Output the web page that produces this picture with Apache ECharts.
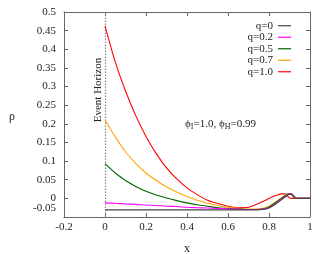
<!DOCTYPE html>
<html><head><meta charset="utf-8">
<script src="https://cdn.jsdelivr.net/npm/echarts@6/dist/echarts.min.js"></script>
<style>html,body{margin:0;padding:0;background:#fff}#c{width:330px;height:254px}</style>
</head><body><div id="c"></div>
<script>
const xs = [0, 0.05, 0.1, 0.15, 0.2, 0.25, 0.3, 0.35, 0.4, 0.45, 0.5, 0.55, 0.6, 0.65, 0.7, 0.74, 0.78, 0.8, 0.82, 0.84, 0.86, 0.87, 0.88, 0.89, 0.9, 0.91, 0.92, 0.93, 0.94, 0.96, 1.0];
const q0  = [-0.031,-0.031,-0.031,-0.031,-0.031,-0.031,-0.031,-0.031,-0.031,-0.031,-0.031,-0.031,-0.031,-0.031,-0.031,-0.031,-0.029,-0.026,-0.020,-0.012,-0.004,0.000,0.004,0.008,0.011,0.012,0.007,0.001,0,0,0];
const q02 = [-0.012,-0.013,-0.015,-0.016,-0.018,-0.019,-0.021,-0.022,-0.024,-0.025,-0.026,-0.027,-0.028,-0.029,-0.030,-0.030,-0.028,-0.025,-0.019,-0.011,-0.003,0.001,0.005,0.009,0.012,0.012,0.006,0.001,0,0,0];
const q05 = [0.093,0.068,0.048,0.032,0.019,0.009,0.001,-0.006,-0.012,-0.017,-0.021,-0.025,-0.027,-0.029,-0.030,-0.030,-0.027,-0.023,-0.016,-0.008,0.000,0.004,0.008,0.011,0.013,0.011,0.004,0.000,0,0,0];
const q07 = [0.210,0.165,0.125,0.094,0.068,0.048,0.031,0.017,0.005,-0.005,-0.013,-0.019,-0.024,-0.027,-0.029,-0.029,-0.025,-0.021,-0.014,-0.006,0.001,0.005,0.009,0.012,0.013,0.010,0.003,0.000,0,0,0];
const q10 = [0.463,0.366,0.288,0.222,0.166,0.120,0.082,0.052,0.028,0.010,-0.005,-0.014,-0.021,-0.025,-0.024,-0.016,-0.006,0.000,0.005,0.009,0.012,0.012,0.012,0.006,0.001,0,0,0,0,0,0];
const seriesNames = ['q=0','q=0.2','q=0.5','q=0.7','q=1.0'];
const seriesVals = [q0,q02,q05,q07,q10];
const colors = ['#444444','#ff00ff','#006400','#ffa500','#ff0000'];
const xTicks = {min:-0.2, max:1, interval:0.2};
const yTicks = {min:-0.05, max:0.5, interval:0.05};

const font = 'Liberation Serif';
const frame = '#666';
function mkAxis(extra){
  return Object.assign({
    axisLine:{show:true, onZero:false, lineStyle:{color:frame, width:1}},
    axisTick:{show:true, inside:true, length:4, lineStyle:{color:frame}},
    splitLine:{show:false},
    axisLabel:{show:false}
  }, extra);
}
const chart = echarts.init(document.getElementById('c'), null, {renderer:'canvas'});
const series = seriesNames.map((n,i)=>({
  name:n, type:'line', xAxisIndex:0, yAxisIndex:0,
  data: xs.map((x,j)=>[x, seriesVals[i][j]]),
  symbol:'none', showSymbol:false, smooth:0.25, z: 10 - i,
  lineStyle:{color:colors[i], width:1.1}, itemStyle:{color:colors[i]},
  animation:false
}));
series[0].markLine = {
  symbol:'none', silent:true, animation:false,
  lineStyle:{color:'#888', type:[1.5,1.5], width:1.2},
  label:{show:false},
  data:[{xAxis:0}]
};
chart.setOption({
  animation:false,
  grid:{left:64, right:20, top:12, bottom:37, outerBoundsMode:'none', containLabel:false},
  xAxis:[
    mkAxis({type:'value', position:'bottom', min:xTicks.min, max:xTicks.max, interval:xTicks.interval,
      name:'x', nameLocation:'middle', nameGap:26,
      nameTextStyle:{fontFamily:font, fontSize:12, color:'#222'},
      axisLabel:{show:true, margin:5, fontFamily:font, fontSize:11, color:'#222'}}),
    mkAxis({type:'value', position:'top', min:xTicks.min, max:xTicks.max, interval:xTicks.interval})
  ],
  yAxis:[
    mkAxis({type:'value', position:'left', min:yTicks.min, max:yTicks.max, interval:yTicks.interval,
      axisLabel:{show:true, showMinLabel:false, showMaxLabel:true, hideOverlap:false, margin:8, fontFamily:font, fontSize:11, color:'#222'}}),
    mkAxis({type:'value', position:'right', min:yTicks.min, max:yTicks.max, interval:yTicks.interval})
  ],
  legend:{
    orient:'vertical', right:34, top:15, itemWidth:13, itemHeight:1.2, itemGap:0,
    align:'right', selectedMode:false, icon:'rect',
    textStyle:{fontFamily:font, fontSize:11, lineHeight:11.5, color:'#222', width:40, align:'right'},
    data:seriesNames.map((n,i)=>({name:n, icon:'rect', itemStyle:{color:colors[i]}}))
  },
  graphic:[
    {type:'text', x:56, y:208, style:{text:String(yTicks.min), font:'11px "Liberation Serif"', fill:'#222', textAlign:'right', textVerticalAlign:'middle'}},
    {type:'text', x:12, y:117, style:{text:'ρ', font:'12px "Liberation Serif"', fill:'#222', textAlign:'center', textVerticalAlign:'middle'}},
    {type:'text', x:98, y:90, rotation:Math.PI/2, style:{text:'Event Horizon', font:'11px "Liberation Serif"', fill:'#222', textAlign:'center', textVerticalAlign:'middle'}},
    {type:'text', x:185, y:124, style:{
      rich:{n:{fontFamily:font, fontSize:11, fill:'#222'}, s:{fontFamily:font, fontSize:8, fill:'#222', padding:[6,0,0,0]}},
      text:'{n|ϕ}{s|I}{n|=1.0, ϕ}{s|H}{n|=0.99}', textVerticalAlign:'middle'}}
  ],
  series:series
});
</script></body></html>
